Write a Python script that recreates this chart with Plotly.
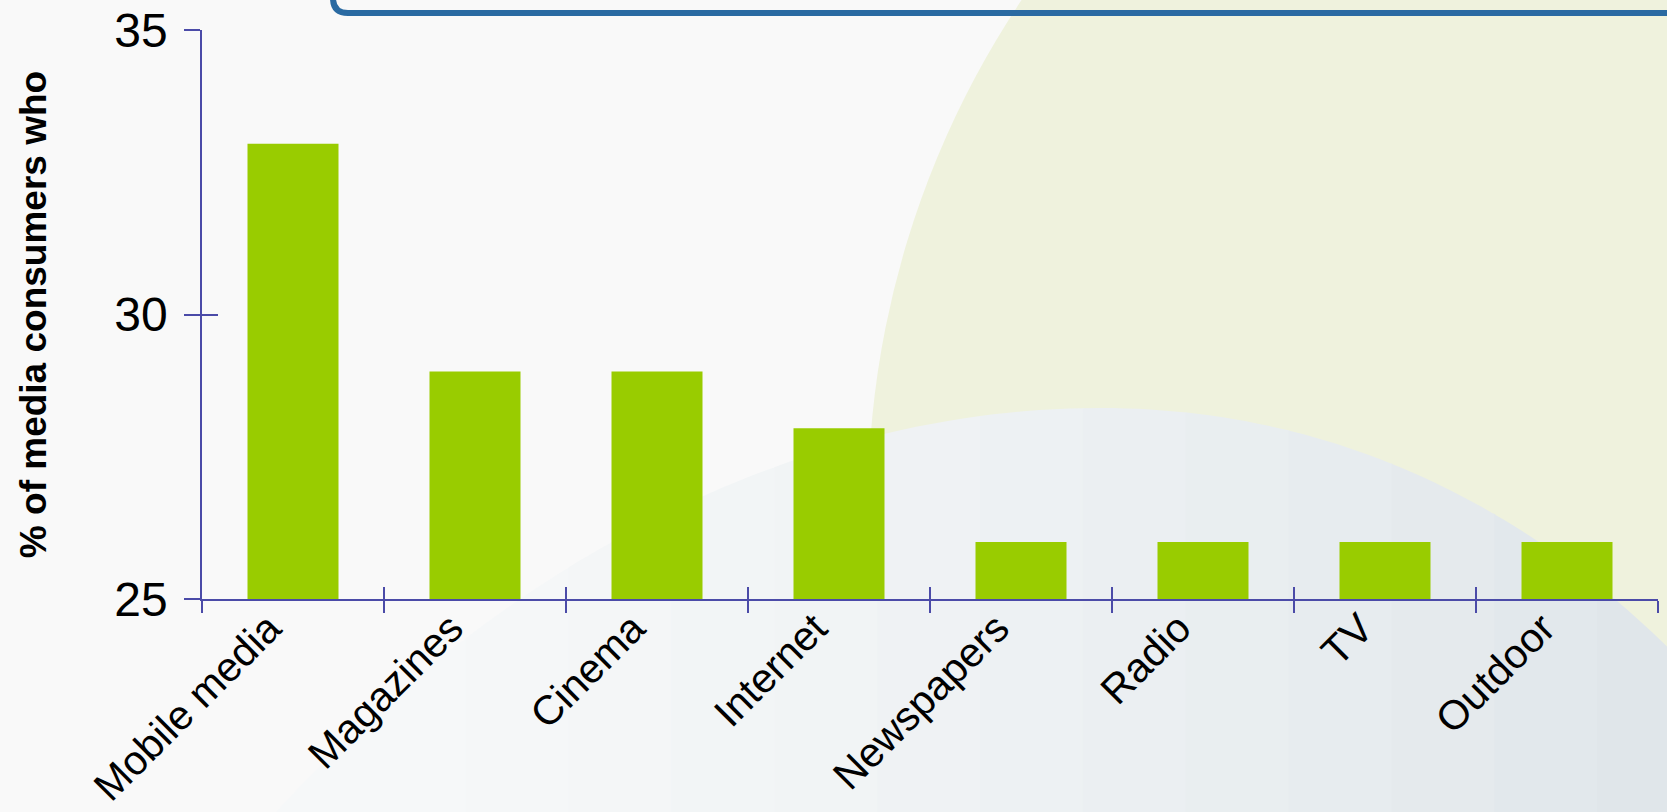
import numpy as np
import plotly.graph_objects as go

categories = ["Mobile media", "Magazines", "Cinema", "Internet",
              "Newspapers", "Radio", "TV", "Outdoor"]
share = [33, 29, 29, 28, 26, 26, 26, 26]
y_ticks = [25, 30, 35]

W, H = 1667, 812
L, R, T, B = 202, 9, 30, 213
AXIS = "#4B4BA8"
FONT = "Liberation Sans, Arial, sans-serif"


def px(x):
    # pixel -> paper x
    return (x - L) / (W - L - R)


def py(y):
    # pixel -> paper y
    return (H - B - y) / (H - T - B)


def bez(p0, p1, p2, p3, n=60):
    t = np.linspace(0, 1, n)[:, None]
    p = ((1 - t) ** 3 * np.array(p0) + 3 * (1 - t) ** 2 * t * np.array(p1)
         + 3 * (1 - t) * t ** 2 * np.array(p2) + t ** 3 * np.array(p3))
    return p


def mix(c0, c1, f):
    a = [int(c0[i:i + 2], 16) for i in (1, 3, 5)]
    b = [int(c1[i:i + 2], 16) for i in (1, 3, 5)]
    return "rgb(%d,%d,%d)" % tuple(round(a[k] + (b[k] - a[k]) * f) for k in range(3))


fig = go.Figure()

fig.add_trace(go.Bar(
    x=categories, y=share,
    marker=dict(color="#99CC00", line=dict(width=0)),
    showlegend=False,
))
# invisible copy, only to carry the inside half of the crossing ticks
fig.add_trace(go.Bar(
    x=categories, y=share, xaxis="x2", yaxis="y2",
    marker=dict(opacity=0), hoverinfo="skip", showlegend=False,
))

shapes = []

# pale yellow disc on the right
cx, cy, r = 1775, 505, 907
shapes.append(dict(type="circle", xref="paper", yref="paper", layer="below",
                   x0=px(cx - r), x1=px(cx + r), y0=py(cy + r), y1=py(cy - r),
                   fillcolor="#EFF2DD", line=dict(width=0)))

# blue-grey swell at the bottom, shaded left -> right in slices
edge = np.vstack([bez((260, 830), (500, 560), (800, 408), (1100, 408)),
                  bez((1100, 408), (1350, 408), (1550, 520), (1700, 680))])
cuts = np.linspace(260, 1700, 15)
for i in range(len(cuts) - 1):
    xa, xb = cuts[i], cuts[i + 1]
    ya = np.interp(xa, edge[:, 0], edge[:, 1])
    yb = np.interp(xb, edge[:, 0], edge[:, 1])
    inner = edge[(edge[:, 0] > xa) & (edge[:, 0] < xb)]
    pts = [(xa, ya)] + [tuple(p) for p in inner] + [(xb + 1, yb), (xb + 1, 830), (xa, 830)]
    path = "M " + " L ".join(f"{px(x):.5f} {py(y):.5f}" for x, y in pts) + " Z"
    shapes.append(dict(type="path", xref="paper", yref="paper", layer="below",
                       path=path, line=dict(width=0),
                       fillcolor=mix("#F6F8F9", "#E0E6EA", (i / (len(cuts) - 2)) ** 1.5)))

# rounded lower-left corner of the header frame
fr = 15
frame = (f"M {px(333)} {py(-10)} L {px(333)} {py(13 - fr)} "
         f"Q {px(333)} {py(13)} {px(333 + fr)} {py(13)} "
         f"L {px(1690)} {py(13)}")
shapes.append(dict(type="path", xref="paper", yref="paper", layer="above",
                   path=frame, line=dict(color="#2A6AA2", width=6)))

fig.update_layout(
    width=W, height=H,
    margin=dict(l=L, r=R, t=T, b=B, pad=0),
    paper_bgcolor="#F9F9F9",
    plot_bgcolor="rgba(0,0,0,0)",
    bargap=0.5,
    font=dict(family=FONT, color="black"),
    shapes=shapes,
    xaxis=dict(
        type="category", range=[-0.5, 7.5], automargin=False,
        showline=True, linecolor=AXIS, linewidth=1.5,
        ticks="outside", tickson="boundaries", ticklen=12,
        tickcolor=AXIS, tickwidth=1.5,
        tickangle=-45, tickfont=dict(size=41, family=FONT),
        ticklabelshift=-24, ticklabelstandoff=-13,
        showgrid=False, zeroline=False,
    ),
    yaxis=dict(
        range=[25, 35], tickvals=y_ticks, automargin=False,
        showline=True, linecolor=AXIS, linewidth=1.5,
        ticks="outside", ticklen=16, tickcolor=AXIS, tickwidth=1.5,
        tickfont=dict(size=48, family=FONT), ticklabelstandoff=7,
        showgrid=False, zeroline=False,
        title=dict(text="<b>% of media consumers who</b>",
                   font=dict(size=37, family=FONT), standoff=56),
    ),
    xaxis2=dict(
        type="category", range=[-0.5, 7.5], overlaying="x", anchor="y2",
        ticks="inside", tickson="boundaries", ticklen=12,
        tickcolor=AXIS, tickwidth=1.5, automargin=False,
        showticklabels=False, showline=False, showgrid=False, zeroline=False,
    ),
    yaxis2=dict(
        range=[25, 35], tickvals=y_ticks, overlaying="y", anchor="x2",
        ticks="inside", ticklen=16, tickcolor=AXIS, tickwidth=1.5,
        automargin=False,
        showticklabels=False, showline=False, showgrid=False, zeroline=False,
    ),
)

fig.write_html("out.html", config={"displayModeBar": False},
               post_script="document.body.style.margin='0';")
